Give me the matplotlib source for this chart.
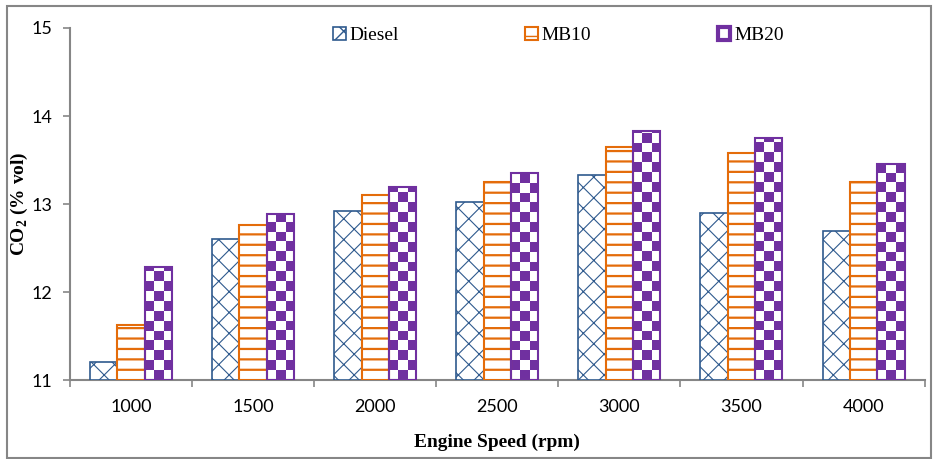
import numpy as np
import matplotlib.pyplot as plt
from matplotlib.colors import ListedColormap
from matplotlib.patches import Patch, Rectangle

speeds = ["1000", "1500", "2000", "2500", "3000", "3500", "4000"]
diesel = [11.2, 12.6, 12.92, 13.02, 13.33, 12.9, 12.69]
mb10 = [11.62, 12.76, 13.1, 13.25, 13.65, 13.58, 13.25]
mb20 = [12.28, 12.89, 13.19, 13.35, 13.83, 13.75, 13.45]

blue = "#2F5A8E"
orange = "#E46C0A"
purple = "#7030A0"
grey = "#868686"

# drawn at dpi 125 so the hatch spacing comes out close to the original
DPI = 125
k = 100 / DPI  # keeps pixel sizes of text/lines as at 100 dpi

plt.rcParams["mathtext.fontset"] = "custom"
plt.rcParams["mathtext.rm"] = "Liberation Serif"
plt.rcParams["mathtext.bf"] = "Liberation Serif:bold"
plt.rcParams["hatch.linewidth"] = 1.0 * k

fig = plt.figure(figsize=(933 / DPI, 459 / DPI), dpi=DPI)
ax = fig.add_axes([0.075, 0.172, 0.916, 0.767])

x = np.arange(len(speeds))
w = 0.224

b1 = ax.bar(x - w, np.array(diesel) - 11, w, bottom=11, facecolor="white",
            edgecolor=blue, hatch="xx", lw=1.2 * k, zorder=3)
b2 = ax.bar(x, np.array(mb10) - 11, w, bottom=11, facecolor="white",
            edgecolor=orange, hatch="--", lw=1.5 * k, zorder=3)
b3 = ax.bar(x + w, np.array(mb20) - 11, w, bottom=11, facecolor="none",
            edgecolor=purple, lw=1.5 * k, zorder=4)
for p in b1:
    if hasattr(p, "set_hatch_linewidth"):
        p.set_hatch_linewidth(0.8 * k)
for p in b2:
    if hasattr(p, "set_hatch_linewidth"):
        p.set_hatch_linewidth(1.6 * k)

# checkerboard fill for MB20
cmap = ListedColormap(["white", purple])
cell_h = 0.112
for p in b3:
    x0, y0 = p.get_x(), p.get_y()
    pw, ph = p.get_width(), p.get_height()
    nrows = int(np.ceil(ph / cell_h))
    grid = (np.add.outer(np.arange(nrows), np.arange(3)) % 2)[::-1]
    im = ax.imshow(grid, cmap=cmap, extent=(x0, x0 + pw, y0, y0 + nrows * cell_h),
                   aspect="auto", interpolation="nearest", zorder=2, vmin=0, vmax=1)
    im.set_clip_path(p)

ax.set_xlim(-0.5, len(speeds) - 0.5)
ax.set_ylim(11, 15)
ax.set_yticks([11, 12, 13, 14, 15])
ax.set_xticks(x)
ax.set_xticklabels(speeds)
ax.set_xticks(np.arange(-0.5, len(speeds)), minor=True)
ax.tick_params(axis="x", which="major", length=0, pad=14 * k)
ax.tick_params(axis="x", which="minor", length=5 * k, color=grey, width=1.2 * k)
ax.tick_params(axis="y", length=5 * k, color=grey, width=1.2 * k, pad=8 * k)
for lab in ax.get_xticklabels() + ax.get_yticklabels():
    lab.set_fontfamily("Lato")
    lab.set_fontsize(13 * k)
for s in ["top", "right"]:
    ax.spines[s].set_visible(False)
for s in ["left", "bottom"]:
    ax.spines[s].set_color(grey)
    ax.spines[s].set_linewidth(1.5 * k)

ax.set_xlabel("Engine Speed (rpm)", fontfamily="Liberation Serif",
              fontweight="bold", fontsize=14 * k)
ax.xaxis.set_label_coords(0.5, -0.153)
ax.set_ylabel(r"CO$_{\mathbf{2}}$ (% vol)", fontfamily="Liberation Serif",
              fontweight="bold", fontsize=14 * k)
ax.yaxis.set_label_coords(-0.047, 0.5)

h3 = Patch(facecolor="white", edgecolor=purple, lw=3 * k)
ax.legend([b1, b2, h3], ["Diesel", "MB10", "MB20"], loc="upper left",
          bbox_to_anchor=(0.294, 1.037), ncol=3, frameon=False,
          prop={"family": "Liberation Serif", "size": 14 * k},
          handlelength=0.65, handleheight=0.65, handletextpad=0.2,
          columnspacing=6.5, borderaxespad=0.2)

fig.add_artist(Rectangle((0.008, 0.003), 0.99, 0.985, transform=fig.transFigure,
                         fill=False, edgecolor=grey, lw=1.5 * k))

fig.savefig("out.png", dpi=DPI)
